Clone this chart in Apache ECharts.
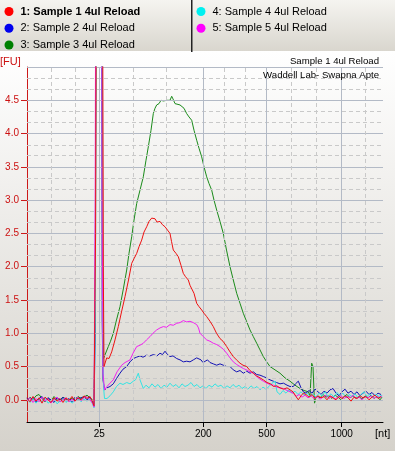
<!DOCTYPE html>
<html>
<head>
<meta charset="utf-8">
<script src="https://cdn.jsdelivr.net/npm/echarts@6/dist/echarts.min.js"></script>
<style>html,body{margin:0;padding:0;}#c{width:395px;height:451px;}</style>
</head>
<body>
<div id="c"></div>
<script>
// x = migration position (arbitrary time units), y = fluorescence [FU]
const seriesNames = ['1: Sample 1 4ul Reload','2: Sample 2 4ul Reload','3: Sample 3 4ul Reload','4: Sample 4 4ul Reload','5: Sample 5 4ul Reload'];
const seriesColors = ['#ee1111','#1212b4','#1a8a1a','#33e3e3','#f020f0'];
const legendColors = ['#ff0000','#0000ee','#008000','#00f0f0','#ff00ff'];

const xTickPos = [72.3, 176.3, 239.7, 314.7];
const xTickLabels = ['25','200','500','1000'];
const xMinorPos = [24.7, 48.7, 106.3, 139.7, 197.3, 218.7, 264.7, 289.7, 338];
const yTickLabels = [0,0.5,1,1.5,2,2.5,3,3.5,4,4.5];

const sample1 = [[0,0.02],[3,-0.03],[6,0.05],[9,-0.02],[12,0.03],[15,-0.05],[18,0.04],[21,0.0],[24,-0.04],[27,0.03],[30,-0.02],[33,0.02],[36,-0.04],[39,0.03],[42,-0.01],[45,0.05],[48,-0.02],[51,0.03],[54,0.0],[57,0.06],[60,0.02],[63,0.05],[65.5,-0.03],[67,-0.09],[68.6,2.5],[69.8,9],[75.2,9],[76.3,2.0],[77,0.5],[79.7,0.63],[82,0.62],[84.7,0.72],[88,0.9],[91.3,1.1],[94.5,1.32],[98,1.55],[101.5,1.8],[104.7,2.05],[107,2.12],[109.7,2.2],[112,2.3],[114.7,2.4],[117,2.52],[119.7,2.6],[122,2.68],[124.7,2.73],[126,2.7],[128,2.72],[130,2.67],[133,2.68],[135.5,2.63],[138,2.6],[140.5,2.55],[143,2.5],[144.5,2.38],[146.3,2.25],[149,2.2],[151.3,2.15],[154,2.02],[156.3,1.9],[158.5,1.85],[161.3,1.8],[163,1.72],[164.7,1.74],[167,1.6],[169.7,1.45],[172,1.4],[174.7,1.35],[177,1.3],[179.7,1.25],[183,1.18],[186.3,1.1],[189.5,1.0],[193,0.92],[196,0.88],[199.7,0.8],[203,0.72],[206.3,0.65],[209.5,0.6],[213,0.55],[216,0.52],[219.7,0.5],[223,0.44],[226.3,0.4],[229.5,0.36],[233,0.33],[236.3,0.3],[240,0.26],[243.5,0.24],[246.5,0.2],[249.7,0.21],[253,0.18],[256.5,0.16],[260,0.18],[263,0.15],[266,0.12],[269,0.05],[271.3,0.0],[274,0.06],[276.3,0.1],[279,0.08],[282,0.04],[285,0.08],[288,0.02],[291,0.06],[294,0.03],[297,0.05],[300,0.0],[303,0.06],[306,0.03],[309,0.0],[312,0.05],[315,0.02],[318,0.06],[321,0.03],[324,-0.02],[327,0.04],[330,0.02],[333,0.06],[336,0.03],[339,0.05],[342,0.0],[345,0.04],[348,0.07],[351,0.02],[354,0.05]];

const sample2 = [[0,0.03],[3,-0.02],[6,0.04],[9,-0.04],[12,0.02],[15,0.05],[18,-0.02],[21,0.03],[24,0.0],[27,-0.04],[30,0.03],[33,0.0],[36,0.04],[39,-0.02],[42,0.02],[45,-0.03],[48,0.04],[51,0.01],[54,0.03],[57,0.05],[60,0.0],[63,0.04],[65.5,-0.04],[67,-0.1],[68.2,1.0],[69.3,9],[74.3,9],[75.2,1.2],[76,0.3],[77.5,0.15],[80,0.18],[83,0.2],[86.3,0.24],[89.5,0.32],[93,0.4],[96,0.46],[99.7,0.5],[103,0.57],[106.3,0.62],[109.5,0.64],[113,0.66],[116,0.64],[119.7,0.67],[123,0.66],[126.3,0.68],[130,0.66],[133,0.7],[135.5,0.68],[138,0.73],[140.5,0.68],[143,0.65],[146,0.66],[149.7,0.62],[153,0.6],[156.3,0.57],[159.7,0.58],[163,0.57],[166.3,0.6],[169.7,0.63],[171.5,0.65],[174,0.6],[176,0.56],[178,0.55],[180.5,0.6],[183,0.56],[186.3,0.54],[189.7,0.52],[193,0.54],[196.3,0.52],[199.7,0.5],[203,0.5],[206.3,0.45],[209.7,0.42],[213,0.44],[216.3,0.4],[219.7,0.43],[223,0.4],[226.3,0.42],[229.7,0.38],[233,0.37],[236.3,0.35],[239.5,0.33],[243,0.3],[246.3,0.28],[249.5,0.26],[253,0.24],[256.5,0.25],[260,0.22],[263,0.2],[266.3,0.2],[268.5,0.24],[271.3,0.28],[274,0.18],[276.3,0.12],[279,0.1],[282,0.14],[285,0.1],[288,0.16],[291,0.12],[294,0.08],[297,0.13],[300,0.1],[303,0.15],[306,0.17],[309,0.1],[312,0.06],[315,0.12],[318,0.16],[321,0.1],[324,0.13],[327,0.08],[330,0.12],[333,0.06],[336,0.1],[339,0.13],[342,0.08],[345,0.11],[348,0.06],[351,0.1],[354,0.08]];

const sample3 = [[0,-0.02],[3,0.04],[6,0.0],[9,0.06],[12,0.08],[15,0.02],[18,-0.03],[21,0.03],[24,-0.02],[27,0.05],[30,0.0],[33,-0.03],[36,0.04],[39,0.01],[42,-0.02],[45,0.03],[48,0.0],[51,0.05],[54,0.02],[57,0.04],[60,0.07],[63,0.03],[65.5,0.0],[67,-0.07],[68.4,2.0],[69.5,9],[75,9],[75.9,1.5],[76.5,0.62],[78,0.65],[81.3,0.8],[83.5,0.88],[86.3,1.0],[89.5,1.2],[93,1.4],[96.5,1.68],[99.7,1.95],[102,2.2],[104.7,2.45],[107,2.7],[109.7,2.95],[113,3.15],[116.3,3.35],[119,3.6],[121.3,3.8],[124,4.05],[126.3,4.3],[128,4.38],[129.7,4.43],[132,4.45],[134,4.5],[136.3,4.49],[138,4.52],[140,4.5],[141.3,4.53],[143,4.5],[144.7,4.56],[146,4.52],[148,4.45],[150,4.48],[153,4.43],[155,4.46],[157,4.38],[159.7,4.3],[162,4.25],[164.7,4.2],[167,4.05],[169.7,3.9],[172,3.78],[174.7,3.65],[177,3.5],[179.7,3.35],[182,3.25],[184.7,3.15],[187,3.0],[189.7,2.85],[193,2.68],[196.3,2.5],[199.5,2.25],[203,2.0],[206.3,1.8],[209.7,1.6],[213,1.45],[216.3,1.3],[219.5,1.18],[223,1.05],[226.3,0.95],[229.7,0.85],[233,0.75],[236.3,0.65],[239.7,0.57],[243,0.5],[248,0.45],[253,0.4],[258,0.33],[263,0.28],[268,0.22],[273,0.17],[277,0.14],[281.3,0.12],[283,0.06],[284.7,0.55],[286,0.5],[287.5,-0.05],[290,0.06],[293,0.03],[296,0.08],[299,0.04],[302,0.06],[305,0.02],[308,0.07],[311,0.04],[314,0.0],[317,0.05],[320,0.08],[323,0.03],[326,0.06],[329,0.02],[332,0.05],[335,0.01],[338,0.06],[341,0.03],[344,0.07],[347,0.02],[350,0.05],[353,0.0],[355,0.04]];

const sample4 = [[0,0.01],[3,-0.04],[6,0.02],[9,-0.05],[12,0.0],[15,-0.03],[18,0.03],[21,-0.05],[24,-0.02],[27,0.02],[30,-0.06],[33,-0.02],[36,0.01],[39,-0.04],[42,0.0],[45,-0.05],[48,-0.01],[51,0.02],[54,-0.03],[57,0.01],[60,-0.02],[63,0.02],[65.5,-0.06],[67,-0.12],[68.5,1.5],[69.4,9],[74.6,9],[75.6,1.0],[76.5,0.2],[77.5,0.02],[80,0.02],[83,0.06],[86.3,0.12],[89.5,0.2],[93,0.25],[96,0.23],[99.7,0.26],[103,0.24],[106.3,0.28],[108.5,0.3],[111.3,0.4],[113,0.3],[116.3,0.17],[119,0.22],[122,0.18],[125,0.24],[128,0.19],[131,0.23],[134,0.17],[137,0.22],[140,0.19],[143,0.25],[146,0.2],[149,0.23],[152,0.18],[155,0.24],[158,0.2],[161,0.22],[164,0.26],[167,0.2],[170,0.23],[173,0.18],[176,0.21],[179,0.17],[182,0.22],[185,0.19],[188,0.24],[191,0.2],[194,0.22],[197,0.17],[200,0.21],[203,0.18],[206,0.23],[209,0.19],[212,0.22],[215,0.17],[218,0.2],[221,0.16],[224,0.21],[227,0.17],[230,0.2],[233,0.15],[236,0.19],[239,0.16],[242,0.2],[245,0.25],[248,0.28],[250,0.12],[253,0.08],[256,0.14],[259,0.1],[262,0.15],[265,0.1],[268,0.13],[271,0.08],[274,0.12],[277,0.07],[280,0.1],[283,0.05],[286,0.09],[289,0.04],[292,0.1],[295,0.06],[298,0.12],[301,0.05],[304,0.09],[307,0.04],[310,0.11],[313,0.06],[316,0.1],[319,0.03],[322,0.08],[325,0.05],[328,0.09],[331,0.03],[334,0.08],[337,0.12],[340,0.05],[343,0.09],[346,0.04],[349,0.08],[352,0.05],[355,0.07]];

const sample5 = [[0,-0.01],[3,0.03],[6,-0.04],[9,0.02],[12,-0.03],[15,0.04],[18,-0.02],[21,0.02],[24,-0.05],[27,0.01],[30,0.04],[33,-0.03],[36,0.0],[39,0.03],[42,-0.03],[45,0.01],[48,-0.02],[51,0.04],[54,-0.01],[57,0.03],[60,0.05],[63,0.0],[65.5,-0.05],[67,-0.11],[68.2,3.0],[69.0,9],[74.5,9],[75.2,3.0],[76,0.4],[77.5,0.15],[80,0.2],[83,0.25],[86.3,0.3],[90,0.42],[94.7,0.52],[98,0.56],[103,0.6],[106,0.7],[109.7,0.8],[113,0.82],[116.3,0.85],[119.5,0.9],[123,0.95],[126,1.0],[129.7,1.05],[133,1.08],[136.3,1.1],[139.5,1.09],[143,1.13],[146.3,1.12],[149.7,1.15],[153,1.16],[156.3,1.19],[159.7,1.17],[163,1.18],[166.3,1.16],[169.7,1.13],[171.5,1.08],[173,1.0],[176.3,0.95],[179.7,0.9],[183,0.88],[186.3,0.85],[189.7,0.83],[193,0.8],[196.3,0.76],[199.7,0.7],[203,0.63],[206.3,0.57],[209.7,0.53],[213,0.5],[216.3,0.47],[219.7,0.45],[223,0.42],[226.3,0.4],[229.7,0.35],[233,0.31],[236.3,0.28],[240,0.25],[243,0.23],[246.3,0.22],[250,0.19],[253,0.18],[256.3,0.17],[260,0.14],[263,0.12],[266.3,0.1],[269,0.05],[272,0.08],[275,0.04],[278,0.07],[281,0.03],[284,0.06],[287,0.02],[290,0.05],[293,0.01],[296,0.04],[299,0.07],[302,0.02],[305,0.05],[308,0.01],[311,0.04],[314,0.06],[317,0.02],[320,0.05],[323,0.03],[326,0.07],[329,0.02],[332,0.04],[335,0.0],[338,0.05],[341,0.03],[344,0.06],[347,0.02],[350,0.05],[353,0.03],[355,0.06]];

const allData = [sample1, sample2, sample3, sample4, sample5];

const FONT = 'Liberation Sans';
const Y_MIN = -1/3, Y_MAX = 5, X_MIN = 0, X_MAX = 356;

// gridlines
const solidStyle = {color:'#b3bac6', width:1, type:'solid'};
const dashStyle = {color:'#c9c9c9', width:1, type:[4,3]};
const gridLines = [];
for (let k = -1; k <= 30; k++) {
  const v = k/6;
  if (v < Y_MIN + 1e-6 || v > Y_MAX + 1e-6) continue;
  gridLines.push({yAxis: v, lineStyle: (k % 3 === 0) ? solidStyle : dashStyle});
}
xTickPos.forEach(p => gridLines.push({xAxis: p, lineStyle: solidStyle}));
xMinorPos.forEach(p => gridLines.push({xAxis: p, lineStyle: dashStyle}));

const series = [{
  type:'line', data:[], z:1, silent:true, animation:false,
  markLine:{silent:true, symbol:['none','none'], label:{show:false}, animation:false, data:gridLines}
}];
const zOrder = [6, 3, 2, 4, 5];
allData.forEach((d,i) => series.push({
  name: seriesNames[i], type:'line', data:d, showSymbol:false, symbol:'none',
  clip:true, animation:false, z: zOrder[i],
  lineStyle:{width:1, color:seriesColors[i]}, itemStyle:{color:seriesColors[i]}
}));

const legendCommon = {
  orient:'vertical', icon:'circle', itemWidth:9, itemHeight:9, itemGap:0, padding:0,
  textStyle:{fontFamily:FONT, fontSize:11, color:'#000', lineHeight:16.7, padding:[0,0,0,2],
    rich:{b:{fontFamily:FONT, fontSize:11, fontWeight:'bold', color:'#000', lineHeight:16.7}}},
  formatter: n => n === seriesNames[0] ? '{b|' + n + '}' : n,
  selectedMode:false
};
const legendItems = seriesNames.map((n,i) => ({name:n, itemStyle:{color:legendColors[i]}}));

const chart = echarts.init(document.getElementById('c'), null, {renderer:'canvas'});
chart.setOption({
  animation:false,
  backgroundColor:'transparent',
  grid:{left:27, right:12, top:67, bottom:29, containLabel:false},
  legend:[
    Object.assign({}, legendCommon, {left:4.5, top:3.2, data:legendItems.slice(0,3)}),
    Object.assign({}, legendCommon, {left:196.5, top:3.2, data:legendItems.slice(3)})
  ],
  xAxis:{
    type:'value', min:X_MIN, max:X_MAX,
    axisLine:{show:true, onZero:false, lineStyle:{color:'#000', width:1}},
    axisTick:{show:true, customValues:xTickPos, length:5, lineStyle:{color:'#000'}},
    axisLabel:{customValues:xTickPos, margin:7, fontFamily:FONT, fontSize:10, color:'#000',
      formatter: v => { const i = xTickPos.findIndex(p => Math.abs(p - v) < 0.01); return i >= 0 ? xTickLabels[i] : ''; }},
    splitLine:{show:false}, minorSplitLine:{show:false}
  },
  yAxis:{
    type:'value', min:Y_MIN, max:Y_MAX,
    axisLine:{show:true, onZero:false, lineStyle:{color:'#cc1a1a', width:1}},
    axisTick:{show:true, customValues:yTickLabels, length:6, lineStyle:{color:'#cc1a1a'}},
    axisLabel:{customValues:yTickLabels, margin:8, fontFamily:FONT, fontSize:10, color:'#cc1111',
      formatter: v => v.toFixed(1)},
    splitLine:{show:false}
  },
  graphic:{elements:[
    {type:'rect', z:-100, silent:true, shape:{x:0, y:51, width:395, height:400},
      style:{fill:new echarts.graphic.LinearGradient(0,0,0,1,[{offset:0,color:'#ffffff'},{offset:1,color:'#d5d2cb'}])}},
    {type:'rect', z:-100, silent:true, shape:{x:0, y:0, width:395, height:51},
      style:{fill:new echarts.graphic.LinearGradient(0,0,0,1,[{offset:0,color:'#f5f4f0'},{offset:1,color:'#d9d6ce'}])}},
    {type:'rect', z:-90, silent:true, shape:{x:191, y:0, width:1.5, height:52}, style:{fill:'#222'}},
    {type:'text', z:10, silent:true, style:{text:'[FU]', x:0, y:62, textVerticalAlign:'middle', fontFamily:FONT, fontSize:11, fill:'#cc1111'}},
    {type:'text', z:10, silent:true, style:{text:'[nt]', x:375, y:434, textVerticalAlign:'middle', fontFamily:FONT, fontSize:11, fill:'#000'}},
    {type:'text', z:10, silent:true, style:{text:'Sample 1 4ul Reload', x:379, y:61, textAlign:'right', textVerticalAlign:'middle', fontFamily:FONT, fontSize:9.6, fill:'#000'}},
    {type:'text', z:10, silent:true, style:{text:'Waddell Lab- Swapna Apte', x:379, y:75.5, textAlign:'right', textVerticalAlign:'middle', fontFamily:FONT, fontSize:9.6, fill:'#000'}}
  ]},
  series: series
});
</script>
</body>
</html>
